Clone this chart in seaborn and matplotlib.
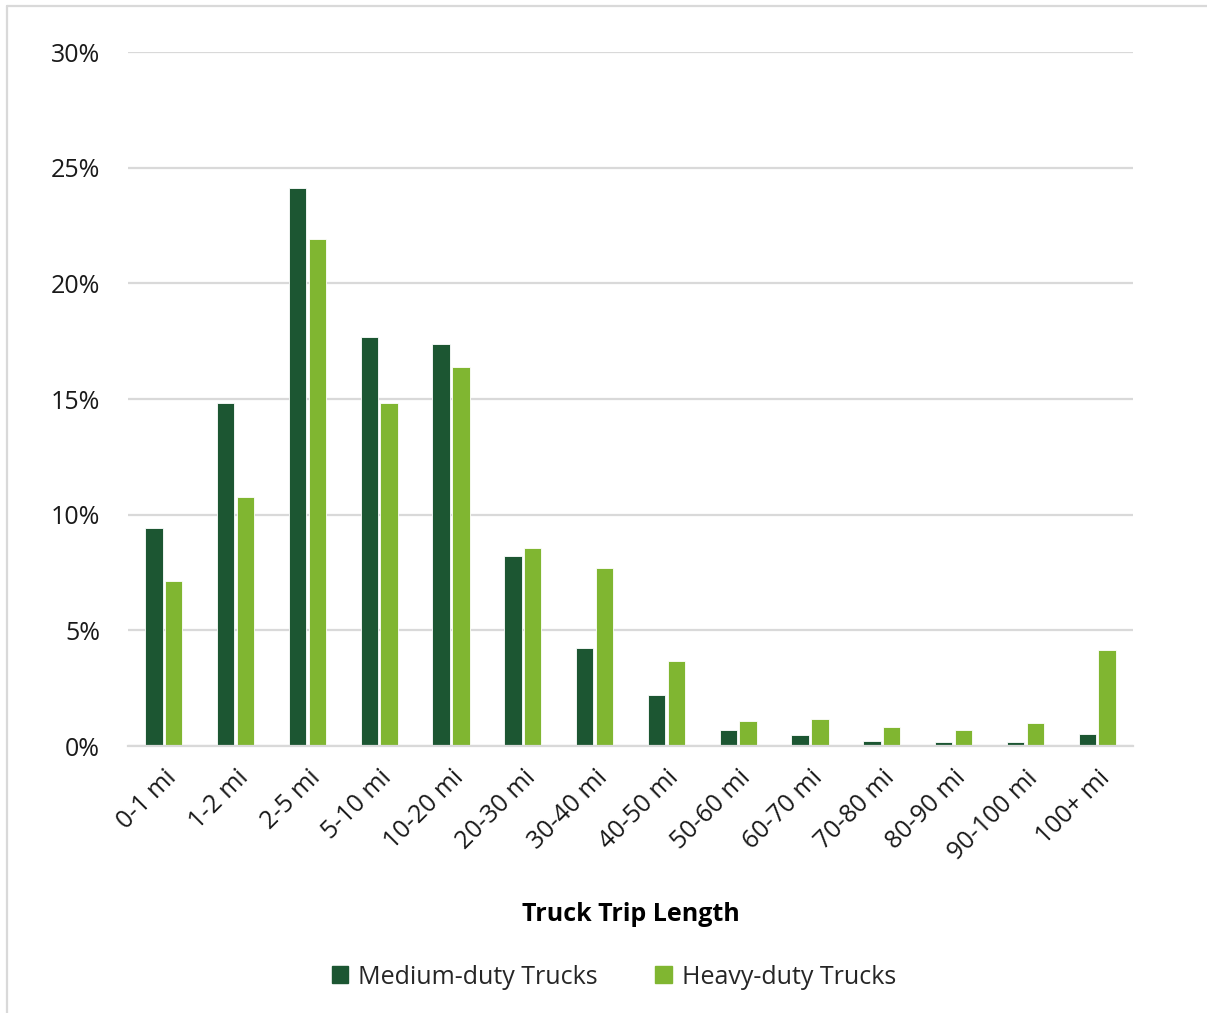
import numpy as np
import pandas as pd
import matplotlib
matplotlib.use("Agg")
import matplotlib.pyplot as plt
from matplotlib.lines import Line2D
import seaborn as sns

categories = ["0-1 mi", "1-2 mi", "2-5 mi", "5-10 mi", "10-20 mi", "20-30 mi", "30-40 mi",
              "40-50 mi", "50-60 mi", "60-70 mi", "70-80 mi", "80-90 mi", "90-100 mi", "100+ mi"]
medium = [9.42, 14.83, 24.12, 17.68, 17.38, 8.21, 4.24, 2.20, 0.69, 0.48, 0.22, 0.17, 0.17, 0.52]
heavy = [7.13, 10.77, 21.92, 14.83, 16.39, 8.56, 7.70, 3.67, 1.08, 1.17, 0.82, 0.69, 0.99, 4.15]
series_names = ["Medium-duty Trucks", "Heavy-duty Trucks"]
colors = ["#1c5632", "#80b631"]
y_ticks = [0, 5, 10, 15, 20, 25, 30]

df = pd.DataFrame({
    "cat": categories * 2,
    "val": medium + heavy,
    "series": [series_names[0]] * len(categories) + [series_names[1]] * len(categories),
})

sns.set_theme(style="white")
plt.rcParams["font.family"] = ["Open Sans", "DejaVu Sans"]

FS = 18

fig = plt.figure(figsize=(12.07, 10.13), dpi=100)
ax = fig.add_axes([128 / 1207, 1 - 746 / 1013, (1133 - 128) / 1207, (746 - 52) / 1013])

sns.barplot(data=df, x="cat", y="val", hue="series", order=categories, hue_order=series_names,
            palette=colors, width=0.55, gap=0.12, edgecolor="white", linewidth=0.6,
            saturation=1, ax=ax, legend=True)

ax.set_ylim(0, 30)
ax.set_xlim(-0.5, len(categories) - 0.5)
ax.set_yticks(y_ticks)
ax.set_yticklabels([f"{t}%" for t in y_ticks], fontsize=FS, color="#1a1a1a")
ax.yaxis.grid(True, color="#d9d9d9", linewidth=1.6)
ax.set_axisbelow(True)
for s in ["top", "right", "left"]:
    ax.spines[s].set_visible(False)
ax.spines["bottom"].set_color("#d9d9d9")
ax.spines["bottom"].set_linewidth(1.6)
ax.tick_params(axis="y", length=0, pad=20)
ax.tick_params(axis="x", length=0, pad=14)
ax.set_xticks(range(len(categories)))
ax.set_xticklabels(categories, rotation=45, ha="right", rotation_mode="anchor",
                   fontsize=FS, color="#1a1a1a")
ax.set_ylabel("")
ax.set_xlabel("Truck Trip Length", fontsize=FS, fontweight="bold", color="#000000", labelpad=27)

handles = [plt.Rectangle((0, 0), 1, 1, color=c) for c in colors]
ax.legend(handles, series_names, loc="center", bbox_to_anchor=(614 / 1207, 1 - 977 / 1013),
          bbox_transform=fig.transFigure, ncol=2, frameon=False, fontsize=FS,
          handlelength=0.65, handleheight=0.65, handletextpad=0.4, columnspacing=2.3)

fig.add_artist(Line2D([6.5 / 1207, 6.5 / 1207], [0, 1 - 6.5 / 1013], color="#d9d9d9", linewidth=1.6,
                      transform=fig.transFigure))
fig.add_artist(Line2D([6.5 / 1207, 1], [1 - 6.5 / 1013, 1 - 6.5 / 1013], color="#d9d9d9", linewidth=1.6,
                      transform=fig.transFigure))

fig.savefig("out.png", dpi=100, facecolor="white")
